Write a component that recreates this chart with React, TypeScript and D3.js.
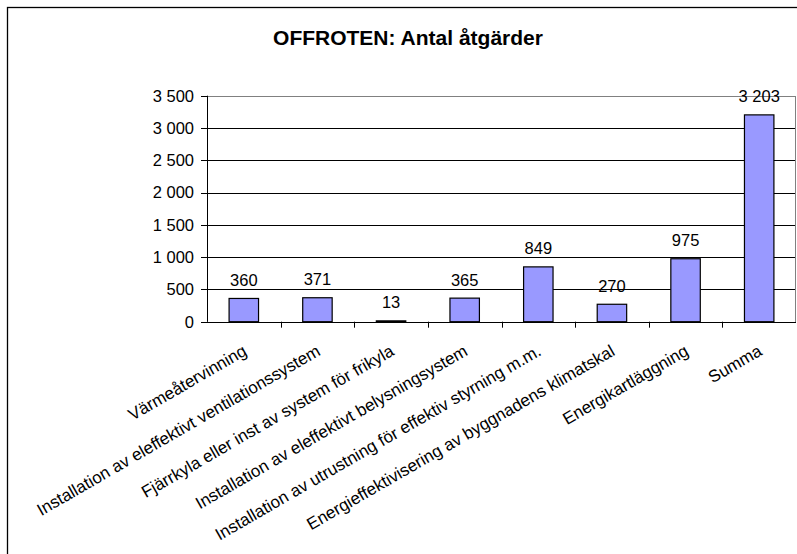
import React from "react";
import * as d3 from "d3";

const categories: string[] = [
  "Värmeåtervinning",
  "Installation av eleffektivt ventilationssystem",
  "Fjärrkyla eller inst av system för frikyla",
  "Installation av eleffektivt belysningsystem",
  "Installation av utrustning för effektiv styrning m.m.",
  "Energieffektivisering av byggnadens klimatskal",
  "Energikartläggning",
  "Summa",
];
const values: number[] = [360, 371, 13, 365, 849, 270, 975, 3203];
const yTicks: number[] = [0, 500, 1000, 1500, 2000, 2500, 3000, 3500];
const title = "OFFROTEN: Antal åtgärder";

const W = 797;
const H = 554;
const plot = { left: 207, right: 796, top: 95.7, bottom: 321.7 };
const FONT = "Arial, 'Liberation Sans', sans-serif";

const fmt = (v: number) => d3.format(",")(v).replace(/,/g, " ");

export default function App() {
  const x = d3
    .scaleBand<string>()
    .domain(categories)
    .range([plot.left, plot.right])
    .paddingInner(0)
    .paddingOuter(0);
  const y = d3.scaleLinear().domain([0, 3500]).range([plot.bottom, plot.top]);
  const bw = x.bandwidth() * 0.4;

  return (
    <div style={{ position: "absolute", left: 0, top: 0, background: "#fff" }}>
      <svg width={W} height={H} style={{ display: "block", fontFamily: FONT }}>
        <rect x={0} y={0} width={W} height={H} fill="#fff" />
        {/* chart frame */}
        <rect x={7.5} y={7.5} width={W + 10} height={H + 10} fill="#fff" stroke="#000" strokeWidth={1.3} />
        <text x={408} y={45} textAnchor="middle" fontWeight="bold" fontSize={21} fill="#000">
          {title}
        </text>
        {/* gridlines */}
        {yTicks.slice(1, -1).map((t) => (
          <line key={"g" + t} x1={plot.left} x2={plot.right} y1={Math.round(y(t)) + 0.5} y2={Math.round(y(t)) + 0.5} stroke="#000" strokeWidth={1} />
        ))}
        {/* plot border */}
        <rect
          x={plot.left + 0.5}
          y={Math.round(plot.top) + 0.5}
          width={plot.right - plot.left - 1}
          height={Math.round(plot.bottom) - Math.round(plot.top)}
          fill="none"
          stroke="#808080"
          strokeWidth={1}
        />
        {/* bars */}
        {categories.map((c, i) => {
          const cx = (x(c) as number) + x.bandwidth() / 2;
          const top = y(values[i]);
          return (
            <g key={c}>
              <rect
                x={cx - bw / 2}
                y={top}
                width={bw}
                height={Math.max(y(0) - top, 1)}
                fill="#9999FF"
                stroke="#000"
                strokeWidth={1.2}
              />
              <text x={cx} y={top - 12.5} textAnchor="middle" fontSize={16.5} fill="#000">
                {fmt(values[i])}
              </text>
            </g>
          );
        })}
        {/* y axis */}
        <line x1={plot.left + 0.5} x2={plot.left + 0.5} y1={plot.top} y2={plot.bottom} stroke="#000" strokeWidth={1} />
        {yTicks.map((t) => (
          <g key={"t" + t}>
            <line x1={plot.left - 6} x2={plot.left} y1={Math.round(y(t)) + 0.5} y2={Math.round(y(t)) + 0.5} stroke="#000" strokeWidth={1} />
            <text x={194} y={y(t)} dy="0.36em" textAnchor="end" fontSize={16.5} fill="#000">
              {fmt(t)}
            </text>
          </g>
        ))}
        {/* x axis */}
        <line x1={plot.left} x2={plot.right} y1={Math.round(plot.bottom) + 0.5} y2={Math.round(plot.bottom) + 0.5} stroke="#000" strokeWidth={1} />
        {categories.map((c, i) => {
          const bx = (x(c) as number) + x.bandwidth();
          return i < categories.length - 1 ? (
            <line key={"xt" + c} x1={Math.round(bx) + 0.5} x2={Math.round(bx) + 0.5} y1={plot.bottom} y2={plot.bottom + 6} stroke="#000" strokeWidth={1} />
          ) : null;
        })}
        {categories.map((c) => {
          const cx = (x(c) as number) + x.bandwidth() / 2;
          return (
            <text
              key={"xl" + c}
              transform={`translate(${cx - 2},${plot.bottom + 22}) rotate(-30)`}
              dy="0.72em"
              textAnchor="end"
              fontSize={17}
              fill="#000"
            >
              {c}
            </text>
          );
        })}
      </svg>
    </div>
  );
}
